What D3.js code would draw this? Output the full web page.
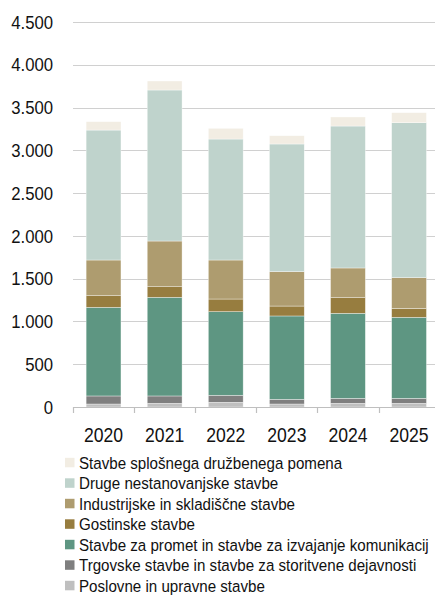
<!DOCTYPE html>
<html>
<head>
<meta charset="utf-8">
<script src="https://cdn.jsdelivr.net/npm/d3@7"></script>
<style>
  html, body { margin: 0; padding: 0; background: #fff; overflow: hidden; }
  svg { display: block; font-family: "Liberation Sans", Arial, sans-serif; }
</style>
</head>
<body>
<svg id="chart" width="435" height="596"></svg>
<script>
const years = ["2020", "2021", "2022", "2023", "2024", "2025"];
const seriesNames = [
  "Poslovne in upravne stavbe",
  "Trgovske stavbe in stavbe za storitvene dejavnosti",
  "Stavbe za promet in stavbe za izvajanje komunikacij",
  "Gostinske stavbe",
  "Industrijske in skladiščne stavbe",
  "Druge nestanovanjske stavbe",
  "Stavbe splošnega družbenega pomena"
];
const seriesColors = ["#BFBFBF", "#7F7F7F", "#5E9682", "#977D3F", "#AE9C6F", "#BFD3CC", "#F2EDE3"];
const poslovne   = [35, 43, 55, 35, 43, 43];
const trgovske   = [94, 86, 82, 55, 58, 58];
const promet     = [1036, 1153, 977, 974, 994, 947];
const gostinske  = [136, 124, 148, 116, 183, 105];
const industrija = [417, 534, 456, 402, 347, 359];
const druge      = [1519, 1765, 1414, 1492, 1659, 1811];
const splosne    = [98, 105, 125, 97, 106, 117];
const yTicks = [0, 500, 1000, 1500, 2000, 2500, 3000, 3500, 4000, 4500];

const seriesValues = [poslovne, trgovske, promet, gostinske, industrija, druge, splosne];
const table = years.map((y, i) => {
  const row = { year: y };
  seriesNames.forEach((s, k) => row[s] = seriesValues[k][i]);
  return row;
});

const svg = d3.select("#chart");
const margin = { left: 73, top: 22, bottom: 407 };
const plotRight = 439.6;
const sx = 0.88;

const x = d3.scaleBand().domain(years).range([margin.left, plotRight]).paddingInner(0.43).paddingOuter(0.215);
const y = d3.scaleLinear().domain([0, 4500]).range([margin.bottom, margin.top]);

const loc = d3.formatLocale({ decimal: ",", thousands: ".", grouping: [3], currency: ["", " €"] });
const fmt = loc.format(",.0f");

// gridlines
svg.append("g").selectAll("line").data(yTicks.filter(d => d > 0)).join("line")
  .attr("x1", margin.left).attr("x2", 436)
  .attr("y1", d => Math.round(y(d)) + 0.5).attr("y2", d => Math.round(y(d)) + 0.5)
  .attr("stroke", "#D0D0D0").attr("stroke-width", 1.2);

// y labels
svg.append("g").selectAll("text").data(yTicks).join("text")
  .attr("transform", d => `translate(53,${y(d)}) scale(${sx},1)`)
  .attr("dy", "0.35em")
  .attr("text-anchor", "end").attr("font-size", 19).attr("fill", "#111")
  .text(d => fmt(d));

// stacked bars
const stack = d3.stack().keys(seriesNames)(table);
svg.append("g").selectAll("g").data(stack).join("g")
  .attr("fill", (d, i) => seriesColors[i])
  .selectAll("rect").data(d => d).join("rect")
  .attr("x", d => x(d.data.year))
  .attr("width", x.bandwidth())
  .attr("y", d => y(d[1]))
  .attr("height", d => y(d[0]) - y(d[1]))
  .attr("stroke", "#ffffff").attr("stroke-width", 0.6).attr("stroke-opacity", 0.6);

// x axis
const gx = svg.append("g").attr("transform", `translate(0,${margin.bottom})`);
gx.append("line").attr("x1", margin.left).attr("x2", 436).attr("y1", 0.5).attr("y2", 0.5)
  .attr("stroke", "#BFBFBF").attr("stroke-width", 1.2);
const tickPos = years.map(d => x(d) - x.step() * x.paddingInner() / 2).concat([plotRight]);
gx.selectAll("line.tk").data(tickPos).join("line").attr("class", "tk")
  .attr("x1", d => Math.round(d) + 0.5).attr("x2", d => Math.round(d) + 0.5)
  .attr("y1", 0).attr("y2", 6).attr("stroke", "#BFBFBF").attr("stroke-width", 1.2);
gx.selectAll("text").data(years).join("text")
  .attr("transform", d => `translate(${x(d) + x.bandwidth() / 2},35) scale(${sx},1)`)
  .attr("text-anchor", "middle").attr("font-size", 20).attr("fill", "#111")
  .text(d => d);

// legend
const legendOrder = seriesNames.map((s, i) => ({ name: s, color: seriesColors[i] })).reverse();
const lg = svg.append("g").selectAll("g").data(legendOrder).join("g")
  .attr("transform", (d, i) => `translate(65,${462.5 + i * 20.5})`);
lg.append("rect").attr("x", 0).attr("y", -4.7).attr("width", 9.5).attr("height", 9.5).attr("fill", d => d.color);
lg.append("text").attr("transform", `translate(14,0) scale(${sx},1)`).attr("dy", "0.36em")
  .attr("font-size", 17.2).attr("fill", "#111").text(d => d.name);
</script>
</body>
</html>
